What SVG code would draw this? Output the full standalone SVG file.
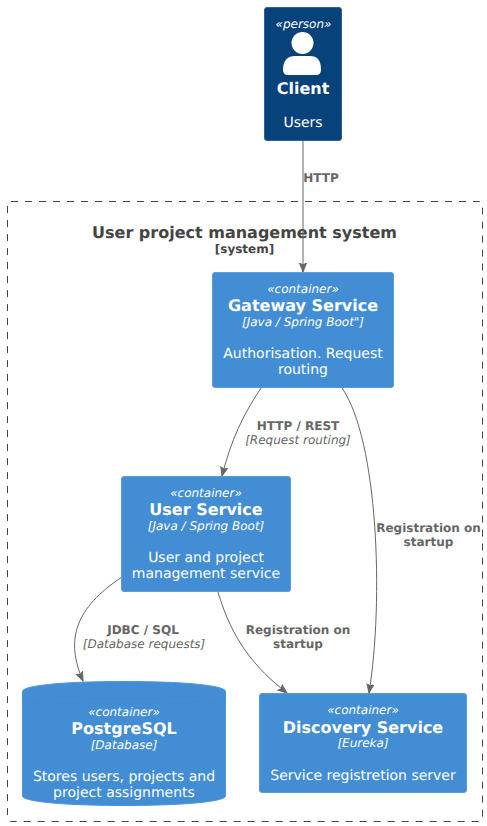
<svg xmlns="http://www.w3.org/2000/svg" width="487" height="826" viewBox="0 0 487 826">
<style>
text{font-family:"DejaVu Sans",sans-serif;text-anchor:middle;text-rendering:geometricPrecision}
.w{fill:#fff}
.s{font-size:12px;font-style:italic}
.t{font-size:16px;font-weight:bold}
.d{font-size:14px}
.c{fill:#438DD5;stroke:#5A9BDA;stroke-width:1}
.l{font-size:12px;font-weight:bold;fill:#666}
.i{font-size:12px;font-style:italic;fill:#666}
.e{fill:none;stroke:#666;stroke-width:1}
</style>
<defs><marker id="a" markerUnits="userSpaceOnUse" markerWidth="12" markerHeight="12" refX="9" refY="4" orient="auto"><path d="M0 0.500L9 4L0 7.500L2 4Z" fill="#666" stroke="#666"/></marker></defs>
<rect width="487" height="826" fill="#fff"/>
<g id="boundary">
<rect x="7.500" y="201.500" width="475" height="620" rx="3.500" fill="none" stroke="#444" stroke-dasharray="7 7"/>
<text x="244.500" y="238" font-size="16" font-weight="bold" fill="#444">User project management system</text>
<text x="244.500" y="253" font-size="12" font-weight="bold" fill="#444">[system]</text>
</g>
<g id="connectors">
<path class="e" marker-end="url(#a)" d="M303 140V272"/>
<path class="e" marker-end="url(#a)" d="M261 388C243 415 231 440 222 476"/>
<path class="e" marker-end="url(#a)" d="M342 388C378 440 384 600 369 693"/>
<path class="e" marker-end="url(#a)" d="M122 577C75 608 65 640 83 681"/>
<path class="e" marker-end="url(#a)" d="M218 592C232 640 255 668 287 693"/>
<text class="l" x="321" y="182">HTTP</text>
<text class="l" x="298" y="430">HTTP / REST</text>
<text class="i" x="298" y="444">[Request routing]</text>
<text class="l" x="428.500" y="532">Registration on</text>
<text class="l" x="428.500" y="546">startup</text>
<text class="l" x="143" y="634">JDBC / SQL</text>
<text class="i" x="144" y="648">[Database requests]</text>
<text class="l" x="298" y="634">Registration on</text>
<text class="l" x="298" y="648">startup</text>
</g>
<g id="client">
<rect x="264.500" y="7.500" width="77" height="133" rx="2.500" fill="#08427B" stroke="#2E6295"/>
<text class="w s" x="303.500" y="28">«person»</text>
<circle cx="302.500" cy="43" r="11" fill="#fff"/>
<path d="M283 70C283 60 288 56 295 56H310C317 56 321 60 321 70C321 73 319 75 316 75H288C285 75 283 73 283 70Z" fill="#fff"/>
<text class="w t" x="303" y="94">Client</text>
<text class="w d" x="303" y="127">Users</text>
</g>
<g id="gateway">
<rect class="c" x="212.500" y="272.500" width="181" height="115" rx="2.500"/>
<text class="w s" x="303" y="293">«container»</text>
<text class="w t" x="303" y="311">Gateway Service</text>
<text class="w s" x="303" y="326">[Java / Spring Boot"]</text>
<text class="w d" x="303" y="358">Authorisation. Request</text>
<text class="w d" x="303" y="374">routing</text>
</g>
<g id="user-service">
<rect class="c" x="121.500" y="476.500" width="169" height="115" rx="2.500"/>
<text class="w s" x="206" y="497">«container»</text>
<text class="w t" x="206" y="515">User Service</text>
<text class="w s" x="206" y="530">[Java / Spring Boot]</text>
<text class="w d" x="206" y="562">User and project</text>
<text class="w d" x="206" y="578">management service</text>
</g>
<g id="postgresql">
<path d="M22.500 691.500C22.500 686 58 681.500 124 681.500S225.500 686 225.500 691.500V796C225.500 801 190 805.500 124 805.500S22.500 801 22.500 796Z" fill="#438DD5" stroke="#4F95DA"/>
<path d="M22.500 691.500C22.500 697 58 701.500 124 701.500S225.500 697 225.500 691.500" fill="none" stroke="#4A90D6"/>
<text class="w s" x="124" y="716">«container»</text>
<text class="w t" x="124" y="734">PostgreSQL</text>
<text class="w s" x="124" y="749">[Database]</text>
<text class="w d" x="124" y="781">Stores users, projects and</text>
<text class="w d" x="124" y="797">project assignments</text>
</g>
<g id="discovery">
<rect class="c" x="259.500" y="693.500" width="207" height="99" rx="2.500"/>
<text class="w s" x="363" y="714">«container»</text>
<text class="w t" x="363" y="733">Discovery Service</text>
<text class="w s" x="363" y="747">[Eureka]</text>
<text class="w d" x="363" y="780">Service registretion server</text>
</g>
</svg>
